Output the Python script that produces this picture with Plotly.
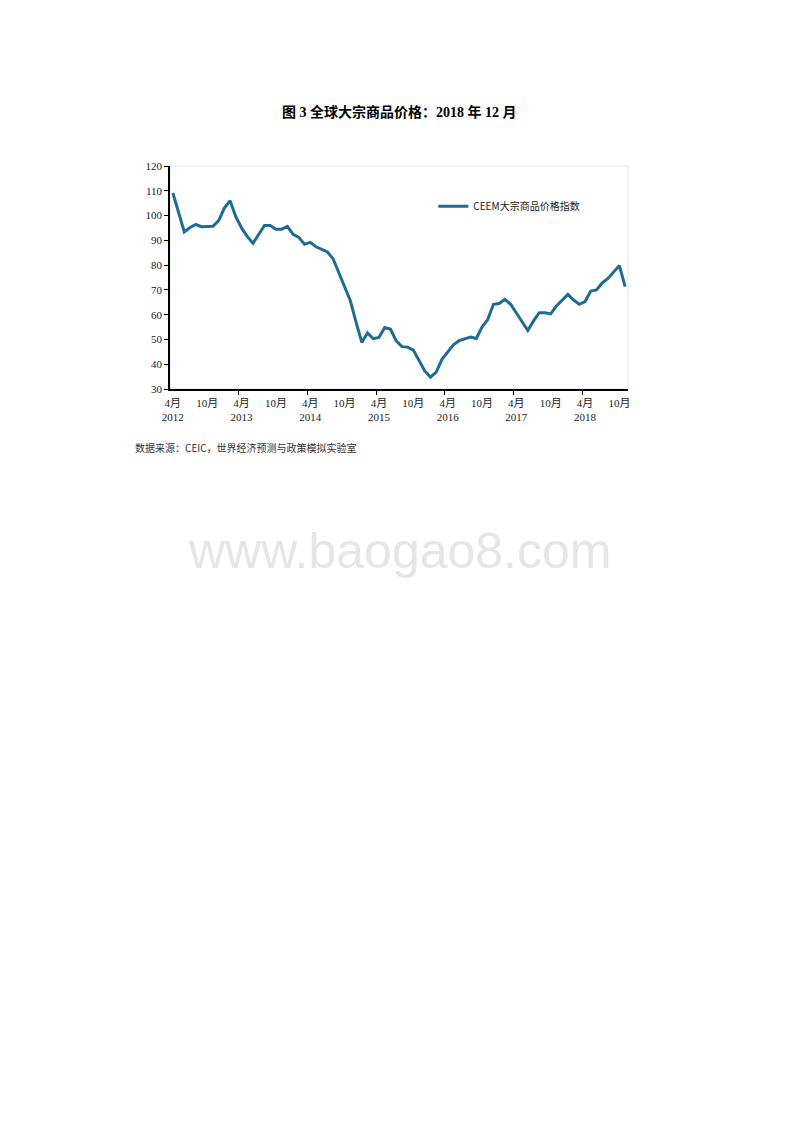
import pandas as pd
import plotly.graph_objects as go

# monthly index values, Apr 2012 - Nov 2018
months = pd.date_range("2012-04-01", "2018-11-01", freq="MS")
ceem_index = [
    109.1, 101.5, 93.4, 95.2, 96.4, 95.5, 95.7, 95.7, 98.0, 103.0, 106.0, 99.5,
    95.0, 91.5, 88.8, 92.5, 96.0, 96.0, 94.5, 94.5, 95.6, 92.4, 91.2, 88.4,
    89.2, 87.4, 86.5, 85.3, 82.5, 77.0, 71.0, 65.6, 57.0, 48.8, 52.6, 50.3,
    50.8, 54.8, 54.2, 49.5, 47.1, 46.9, 45.7, 41.5, 37.3, 34.8, 36.8, 42.0,
    45.0, 47.8, 49.5, 50.2, 51.0, 50.4, 55.0, 58.0, 64.2, 64.5, 66.2, 64.2,
    60.8, 57.0, 53.6, 57.5, 60.8, 60.8, 60.3, 63.5, 66.0, 68.2, 65.9, 64.2,
    65.3, 69.5, 70.0, 72.8, 74.6, 77.0, 79.8, 71.3,
]
series_name = "CEEM大宗商品价格指数"
title_text = "图 3 全球大宗商品价格：2018 年 12 月"
source_text = "数据来源：CEIC，世界经济预测与政策模拟实验室"
watermark = "www.baogao8.com"

idx = list(range(len(months)))

# labels on April / October, tick marks between Mar and Apr each year
label_vals = [i for i, m in zip(idx, months) if m.month in (4, 10)]
label_text = [
    f"{m.month}月<br>{m.year}" if m.month == 4 else f"{m.month}月"
    for m in months if m.month in (4, 10)
]
mark_vals = [i - 0.5 for i, m in zip(idx, months) if m.month == 4 and i > 0]

serif = "Liberation Serif, Noto Sans CJK SC, serif"
cjk = "Noto Sans CJK SC, sans-serif"

fig = go.Figure()
fig.add_trace(go.Scatter(
    x=idx, y=ceem_index, mode="lines", name=series_name,
    line=dict(color="#1F6B94", width=3),
))
# invisible helper so the label axis gets drawn
fig.add_trace(go.Scatter(
    x=[idx[0]], y=[ceem_index[0]], xaxis="x2", mode="lines",
    line=dict(width=0), showlegend=False, hoverinfo="skip",
))

fig.update_layout(
    width=800, height=1132,
    paper_bgcolor="white", plot_bgcolor="white",
    margin=dict(l=162, r=180, t=158, b=751),
    showlegend=True,
    legend=dict(
        x=0.575, y=0.82, xanchor="left", yanchor="middle",
        bgcolor="rgba(0,0,0,0)", itemwidth=30,
        font=dict(family=cjk, size=10, color="#222"),
    ),
    xaxis=dict(
        range=[-0.5, len(idx) - 0.5],
        tickmode="array", tickvals=mark_vals, ticks="outside",
        ticklen=4, tickcolor="black", tickwidth=1,
        showticklabels=False, showgrid=False, zeroline=False,
        showline=True, linecolor="black", linewidth=1.5,
    ),
    xaxis2=dict(
        overlaying="x", side="bottom", matches="x",
        tickmode="array", tickvals=label_vals, ticktext=label_text,
        ticks="", ticklabelstandoff=6,
        showgrid=False, zeroline=False, showline=False,
        tickfont=dict(family=serif, size=11, color="#222"),
    ),
    yaxis=dict(
        range=[30, 120], dtick=10, ticks="outside",
        ticklen=4, tickcolor="black",
        showgrid=False, zeroline=False,
        showline=True, linecolor="black", linewidth=1.5,
        tickfont=dict(family=serif, size=11, color="#222"),
    ),
    shapes=[dict(
        type="rect", xref="paper", yref="paper", x0=0, x1=1, y0=0, y1=1,
        line=dict(color="#e4e4e4", width=1), layer="below",
    )],
    annotations=[
        dict(text=f"<b>{title_text}</b>", xref="paper", yref="paper",
             x=0.502, y=1.24, xanchor="center", yanchor="middle",
             showarrow=False, font=dict(family=serif, size=14, color="black")),
        dict(text=source_text, xref="paper", yref="paper",
             x=-0.081, y=-0.264, xanchor="left", yanchor="middle",
             showarrow=False, font=dict(family=cjk, size=10, color="#333")),
        dict(text=watermark, xref="paper", yref="paper",
             x=0.502, y=-0.725, xanchor="center", yanchor="middle",
             showarrow=False,
             font=dict(family="Liberation Sans, Arial, sans-serif",
                       size=50, color="#e6e6e6")),
    ],
)

fig.write_html("out.html")
